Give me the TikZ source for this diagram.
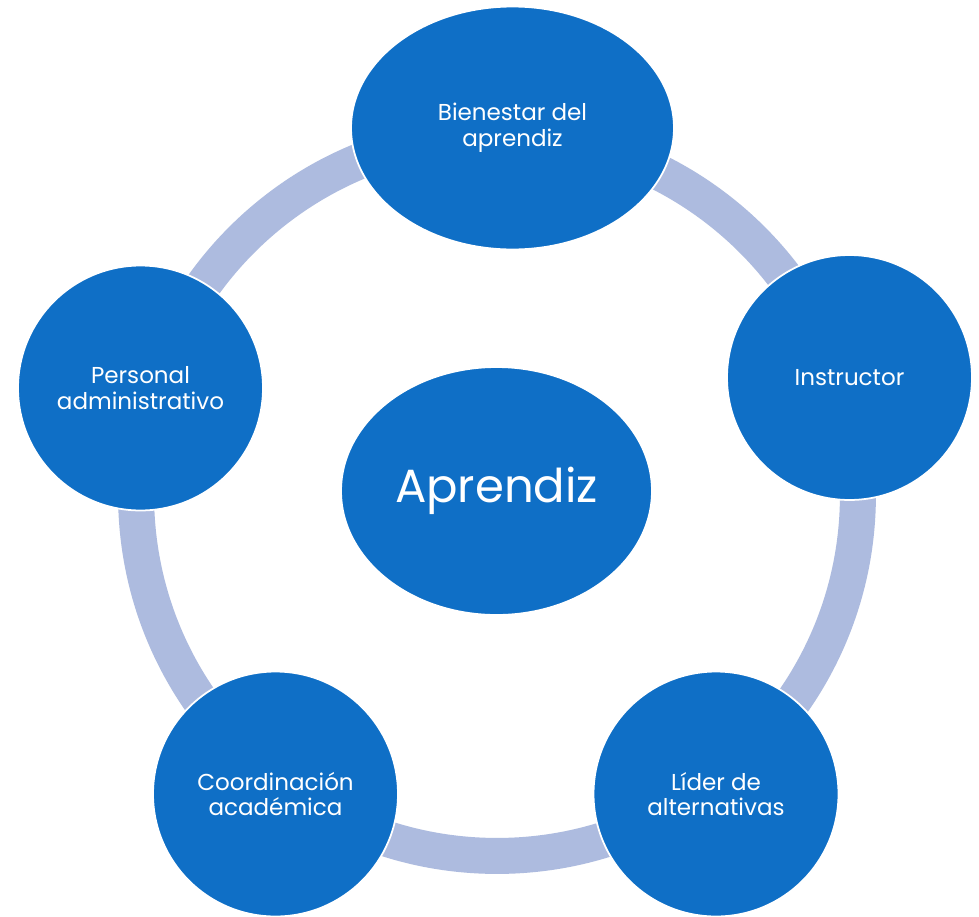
\documentclass[tikz,border=0pt]{standalone}
\usepackage{fontspec}
\setmainfont{Poppins}
\usetikzlibrary{
  shapes.geometric,
  positioning,
  }
\definecolor{nodeblue}{HTML}{0F6FC6}
\definecolor{ringblue}{HTML}{ADBBDF}

\begin{document}
\begin{tikzpicture}[x=0.02cm, y=-0.02cm,
    every node/.style={fill=nodeblue, draw=white, line width=1pt, text=white,
      align=center, font=\fontsize{13.1}{14.6}\selectfont},
    actor/.style={circle, minimum size=4.9cm},
    centro/.style={ellipse, minimum width=6.22cm, minimum height=4.96cm,
      font=\fontsize{26.5}{30}\selectfont},
    ring/.style={draw=ringblue, line width=0.72cm}]
                \useasboundingbox[fill=white] (0,0) rectangle (979,916);
                \coordinate (ringc) at (497,495);
                \draw[ring] (ringc) circle[radius=7.22cm];

                \node[ellipse, minimum width=6.46cm, minimum height=4.86cm] (bienestar) at (512.5,128) {Bienestar del\\aprendiz};
                \node[actor] (instructor) at (849.5,377.5) {Instructor};
                \node[actor] (lider) at (716,794) {Líder de\\alternativas};
                \node[actor] (coordinacion) at (275.5,794) {Coordinación\\académica};
                \node[actor] (personal) at (140.5,388) {Personal\\administrativo};

                \node[centro] (aprendiz) at (496.5,491) {Aprendiz};
            \end{tikzpicture}
\end{document}
